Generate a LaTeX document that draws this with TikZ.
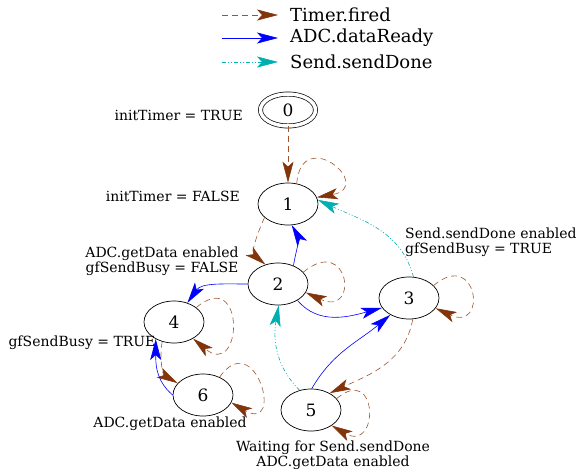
\documentclass[tikz,border=0pt]{standalone}
\usepackage{fontspec}
\setmainfont{DejaVu Serif}
\usetikzlibrary{arrows.meta,shapes.geometric}

\definecolor{timerbrown}{RGB}{130,52,10}
\definecolor{timerline}{RGB}{160,85,45}
\definecolor{adcblue}{RGB}{0,0,255}
\definecolor{sendcyan}{RGB}{0,175,175}

\tikzset{
  state/.style={draw, ellipse, line width=0.7pt, minimum width=60pt, minimum height=42pt,
    inner sep=0pt, font=\fontsize{17}{17}\selectfont},
  cond/.style={font=\fontsize{14}{15}\selectfont, inner sep=0pt, align=center},
  legtext/.style={font=\fontsize{18}{18}\selectfont, anchor=west, inner sep=0pt},
  tip/.style={-{Stealth[length=21pt,width=11pt,inset=5pt]}},
  timer/.style={-{Stealth[length=21pt,width=11pt,inset=5pt,color=timerbrown]}, timerline,
    line width=0.6pt, dash pattern=on 6pt off 4pt},
  adc/.style={tip, adcblue, line width=0.6pt},
  send/.style={tip, sendcyan, line width=0.6pt, dash pattern=on 4pt off 2pt on 1pt off 2pt on 1pt off 2pt},
}

\begin{document}
\begin{tikzpicture}[x=1pt, y=-1pt]
  \useasboundingbox (0,0) rectangle (579,472);

  % legend
  \coordinate (lg1) at (222,15);
  \coordinate (lg2) at (222,38);
  \coordinate (lg3) at (222,62);
  \node[legtext] (lt1) at (290,15) {Timer.fired};
  \node[legtext] (lt2) at (290,38) {ADC.dataReady};
  \node[legtext] (lt3) at (290,62) {Send.sendDone};
  \draw[timer] (lg1) -- ([xshift=-12pt]lt1.west);
  \draw[adc] (lg2) -- ([xshift=-12pt]lt2.west);
  \draw[send] (lg3) -- ([xshift=-12pt]lt3.west);

  % states
  \node[state, double, double distance=3.5pt, minimum width=55pt, minimum height=32pt] (n0) at (288,110) {0};
  \node[state] (n1) at (288,204) {1};
  \node[state] (n2) at (278,284) {2};
  \node[state] (n3) at (409,298) {3};
  \node[state] (n4) at (174,322) {4};
  \node[state] (n5) at (311,410) {5};
  \node[state] (n6) at (203,395) {6};

  % conditions
  \node[cond, anchor=east] (c0) at (243,115) {initTimer = TRUE};
  \node[cond, anchor=east] (c1) at (240,196) {initTimer = FALSE};
  \node[cond] (c2) at (162,261) {ADC.getData enabled\\gfSendBusy = FALSE};
  \node[cond] (c4) at (82,343) {gfSendBusy = TRUE};
  \node[cond] (c6) at (170,424) {ADC.getData enabled};
  \node[cond, anchor=west, align=left] (c3) at (405,242) {Send.sendDone enabled\\gfSendBusy = TRUE};
  \node[cond] (c5) at (333,455) {Waiting for Send.sendDone\\ADC.getData enabled};

  % Timer.fired
  \draw[timer] (n0) -- (n1);
  \draw[timer] (n1.-150) to[out=-115, in=140] (n2.123);
  \draw[timer] (n3.-80) to[out=-100, in=25] (n5.42);
  \draw[timer] (n4.-121) to[out=-100, in=150] (n6.155);
  % self loops
  \foreach \s/\a/\o/\i/\b/\d in {n1/67/85/10/13/60, n2/25/40/-25/-17/60, n3/27/40/-25/-21/58,
      n4/33/40/-40/-41/65, n5/24/40/-30/-37/55, n6/47/55/-30/-15/62} {
    \draw[timer] (\s.\a) to[out=\o, in=\i, distance=\d pt] (\s.\b);
  }

  % ADC.dataReady
  \draw[adc] (n2.50) to[out=80, in=-60] (n1.-80);
  \draw[adc] (n2) to[out=180, in=55] (n4);
  \draw[adc] (n2.-40) to[out=-50, in=-165] (n3.-160);
  \draw[adc] (n5.88) to[out=60, in=-140] (n3.-138);
  \draw[adc] (n6.180) to[out=140, in=-90] (n4.-137);

  % Send.sendDone
  \draw[send] (n3.78) to[out=105, in=-25] (n1.8);
  \draw[send] (n5.120) to[out=135, in=-100] (n2.-88);
\end{tikzpicture}
\end{document}
